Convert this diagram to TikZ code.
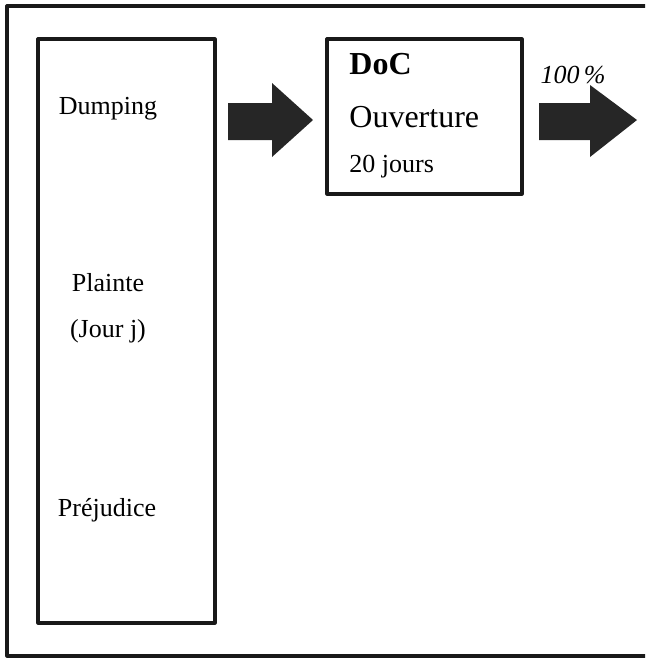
\documentclass[tikz,border=0pt]{standalone}
\usepackage{fontspec}
\setmainfont{Liberation Serif}
\usepackage{tikz}
\usetikzlibrary{positioning}

\begin{document}
\begin{tikzpicture}[line cap=round,line join=round, x=0.5pt,y=-0.5pt,
  frame/.style={draw=black!90, line width=1.6pt},
  label/.style={anchor=base, inner sep=0pt, font=\fontsize{13}{15}\selectfont},
  biglabel/.style={anchor=base west, inner sep=0pt, font=\fontsize{16}{19}\selectfont}]
\useasboundingbox (0,0) rectangle (645,659);
\clip (0,0) rectangle (645,659);
% outer frame, cut on the right
\draw [frame] (700,6) -- (7,6) -- (7,656) -- (700,656);
% left column
\draw [frame] (38,39) rectangle (215,623);
\node [label] (dumping) at (108,114) {Dumping};
\node [label] (plainte) at (108,291) {Plainte};
\node [label] (jour) at (108,337) {(Jour j)};
\node [label] (prejudice) at (107,516) {Préjudice};
% DoC box
\draw [frame] (327,39) rectangle (522,194);
\node [biglabel] (doc) at (349,74) {\textbf{DoC}};
\node [biglabel] (ouverture) at (349,127) {Ouverture};
\node [label, anchor=base west] (jours) at (349,172) {20 jours};
\node [label, font=\fontsize{13}{15}\selectfont\itshape] (pct) at (573,83) {100\,\%};
% block arrows
\fill [black!85] (228,103) -- (272,103) -- (272,83) -- (313,120) -- (272,157) -- (272,140) -- (228,140) -- cycle;
\fill [black!85] (539,103) -- (590,103) -- (590,85) -- (637,120) -- (590,157) -- (590,140) -- (539,140) -- cycle;
\end{tikzpicture}
\end{document}
